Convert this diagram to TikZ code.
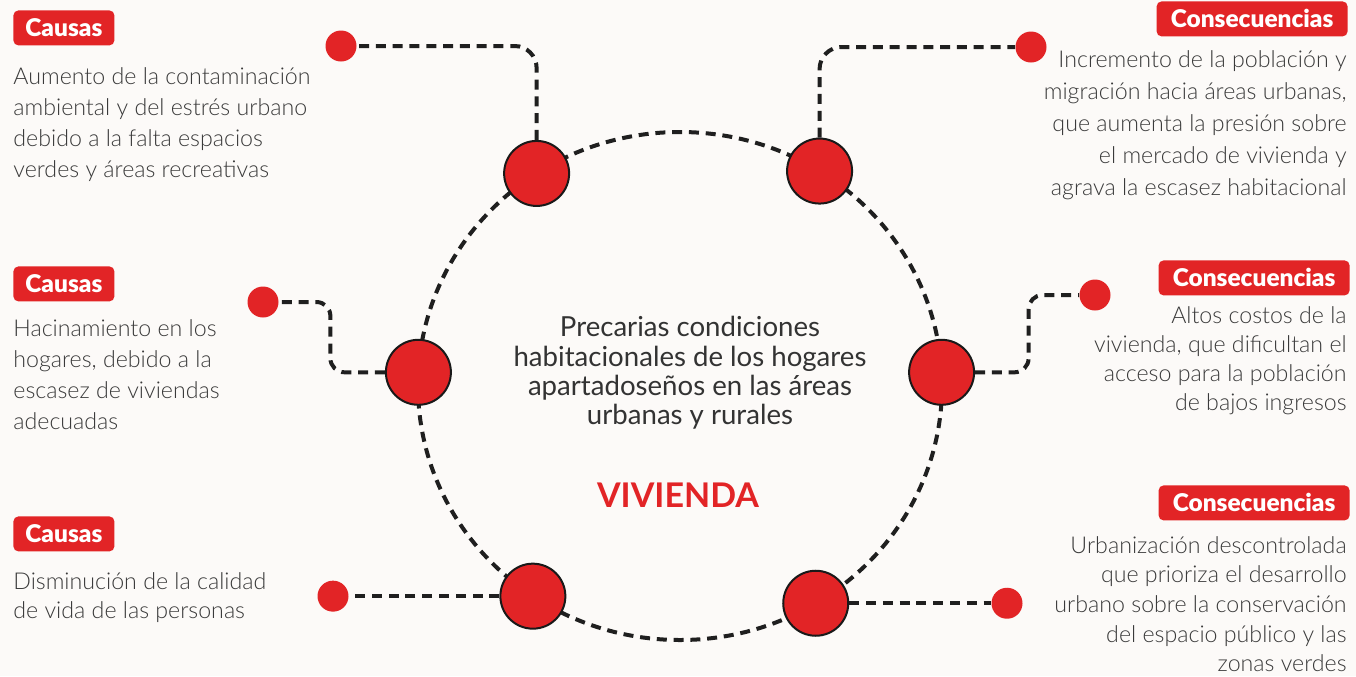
\documentclass[tikz,border=0pt]{standalone}
\usepackage{fontspec}
\setmainfont{Lato}
\newfontfamily\ligera{Lato Light}
\newfontfamily\negra{Lato Black}
\usetikzlibrary{shapes.geometric}
\definecolor{rojo}{RGB}{226,36,38}
\definecolor{gristexto}{RGB}{58,58,58}
\definecolor{fondo}{RGB}{252,250,248}
\begin{document}
\begin{tikzpicture}[x=0.5pt, y=-0.5pt,
  hub/.style={circle, fill=rojo, draw=black!90, line width=1pt, minimum size=32.5pt, inner sep=0pt},
  dot/.style={circle, fill=rojo, minimum size=15.5pt, inner sep=0pt},
  link/.style={black!88, line width=2pt, dash pattern=on 5pt off 3.4pt},
  tag/.style={fill=rojo, text=white, rounded corners=2.5pt, inner sep=0pt, minimum height=17.5pt, font=\negra\fontsize{12.2}{12}\selectfont},
  causa/.style={tag, anchor=north west, minimum width=50.5pt},
  conse/.style={tag, anchor=north east, minimum width=95.5pt},
  txtizq/.style={anchor=north west, align=left, inner sep=0pt, text=gristexto, font=\ligera\fontsize{11.6}{15.5}\selectfont},
  txtder/.style={anchor=north east, align=right, inner sep=0pt, text=gristexto, font=\ligera\fontsize{11.6}{15.5}\selectfont}]
\fill[fondo] (0,0) rectangle (1356,676);
\useasboundingbox (0,0) rectangle (1356,676);
\node (ring) [ellipse, draw, link, minimum width=262pt, minimum height=254pt, inner sep=0pt, outer sep=0pt] at (680,386) {};
\node (tl) [hub] at (ring.124.8) {};
\node (tr) [hub] at (ring.57.8) {};
\node (l) [hub] at (ring.177.2) {};
\node (r) [hub] at (ring.3.5) {};
\node (bl) [hub] at (ring.-125.7) {};
\node (br) [hub] at (ring.-58) {};
\node (dtl) [dot] at (341,46) {};
\node (dtr) [dot] at (1031,47) {};
\node (dl) [dot] at (263,302) {};
\node (dr) [dot] at (1095,295) {};
\node (dbl) [dot] at (333,0 |- bl) {};
\node (dbr) [dot] at (1007,0 |- br) {};
\draw[link, rounded corners=11pt] (tl) |- (dtl);
\draw[link, rounded corners=11pt] (tr) |- (dtr);
\draw[link, rounded corners=7pt] (l) -- ++(-88,0) |- (dl);
\draw[link, rounded corners=7pt] (r) -- ++(87,0) |- (dr);
\draw[link] (bl) -- (dbl);
\draw[link] (br) -- (dbr);
\node (c1) [causa] at (13,10) {Causas};
\node (c2) [causa] at (13,266) {Causas};
\node (c3) [causa] at (13,516) {Causas};
\node (k1) [conse] at (1348,1) {Consecuencias};
\node (k2) [conse] at (1350,260) {Consecuencias};
\node (k3) [conse] at (1350,485) {Consecuencias};
\node (t1) [txtizq] at (13,67) {Aumento de la contaminación\\ambiental y del estrés urbano\\debido a la falta espacios\\verdes y áreas recreativas};
\node (t2) [txtizq] at (13,319) {Hacinamiento en los\\hogares, debido a la\\escasez de viviendas\\adecuadas};
\node (t3) [txtizq, font=\ligera\fontsize{11.6}{14.5}\selectfont] at (13,572) {Disminución de la calidad\\de vida de las personas};
\node (u1) [txtder, font=\ligera\fontsize{11.6}{16}\selectfont] at (1347,50) {Incremento de la población y\\migración hacia áreas urbanas,\\que aumenta la presión sobre\\el mercado de vivienda y\\agrava la escasez habitacional};
\node (u2) [txtder, font=\ligera\fontsize{11.6}{14.5}\selectfont] at (1347,306) {Altos costos de la\\vivienda, que dificultan el\\acceso para la población\\de bajos ingresos};
\node (u3) [txtder, font=\ligera\fontsize{11.6}{14.8}\selectfont] at (1347,536) {Urbanización descontrolada\\que prioriza el desarrollo\\urbano sobre la conservación\\del espacio público y las\\zonas verdes};
\node (centro) [align=center, inner sep=0pt, anchor=north, text=black!80, font=\fontsize{13.8}{14.7}\selectfont] at (690,316) {Precarias condiciones\\habitacionales de los hogares\\apartadoseños en las áreas\\urbanas y rurales};
\node (viv) [anchor=base, inner sep=0pt, text=rojo, font=\bfseries\fontsize{17}{17}\selectfont] at (678,507) {VIVIENDA};
\end{tikzpicture}
\end{document}
